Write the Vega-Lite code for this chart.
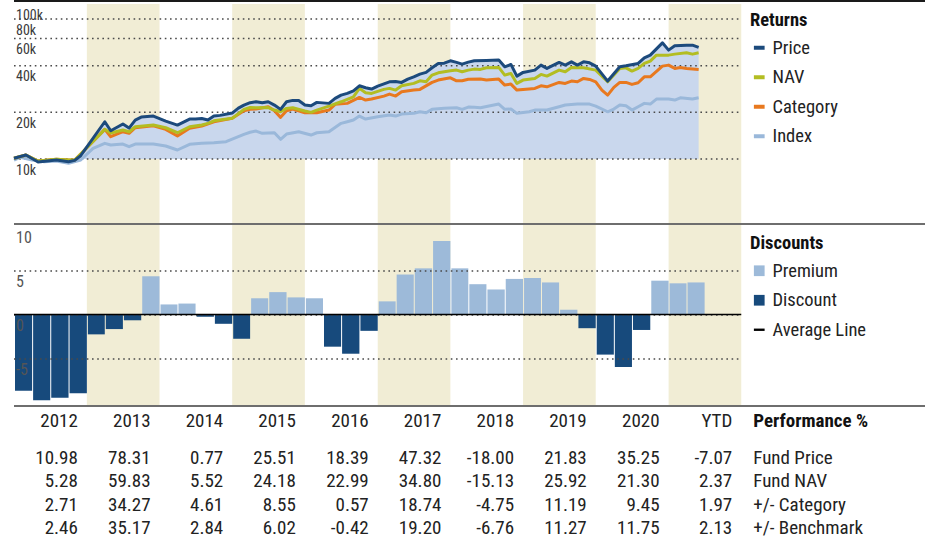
{
  "$schema": "https://vega.github.io/schema/vega-lite/v6.json",
  "padding": {"left": 12, "top": 0, "right": 0, "bottom": 0},
  "spacing": 0,
  "bounds": "flush",
  "resolve": {"scale": {"color": "independent"}, "legend": {"color": "independent"}},
  "datasets": {
    "lines": [
      {"series": "Index", "date": "2012-01-01", "value": 9853},
      {"series": "Index", "date": "2012-02-01", "value": 10255},
      {"series": "Index", "date": "2012-04-01", "value": 9853},
      {"series": "Index", "date": "2012-06-01", "value": 9607},
      {"series": "Index", "date": "2012-08-01", "value": 9708},
      {"series": "Index", "date": "2012-10-01", "value": 9380},
      {"series": "Index", "date": "2012-12-01", "value": 9853},
      {"series": "Index", "date": "2013-02-01", "value": 11721},
      {"series": "Index", "date": "2013-04-01", "value": 12623},
      {"series": "Index", "date": "2013-05-01", "value": 12309},
      {"series": "Index", "date": "2013-07-01", "value": 12493},
      {"series": "Index", "date": "2013-08-01", "value": 12002},
      {"series": "Index", "date": "2013-09-01", "value": 12493},
      {"series": "Index", "date": "2013-12-01", "value": 12493},
      {"series": "Index", "date": "2014-02-01", "value": 12127},
      {"series": "Index", "date": "2014-04-01", "value": 11430},
      {"series": "Index", "date": "2014-06-01", "value": 12437},
      {"series": "Index", "date": "2014-08-01", "value": 12623},
      {"series": "Index", "date": "2014-10-01", "value": 12735},
      {"series": "Index", "date": "2014-12-01", "value": 12926},
      {"series": "Index", "date": "2015-02-01", "value": 13922},
      {"series": "Index", "date": "2015-03-01", "value": 14426},
      {"series": "Index", "date": "2015-04-01", "value": 14880},
      {"series": "Index", "date": "2015-05-01", "value": 15150},
      {"series": "Index", "date": "2015-06-01", "value": 14642},
      {"series": "Index", "date": "2015-08-01", "value": 14773},
      {"series": "Index", "date": "2015-09-01", "value": 13400},
      {"series": "Index", "date": "2015-10-01", "value": 14490},
      {"series": "Index", "date": "2015-12-01", "value": 14994},
      {"series": "Index", "date": "2016-02-01", "value": 14277},
      {"series": "Index", "date": "2016-03-01", "value": 14773},
      {"series": "Index", "date": "2016-05-01", "value": 14994},
      {"series": "Index", "date": "2016-07-01", "value": 16985},
      {"series": "Index", "date": "2016-08-01", "value": 17392},
      {"series": "Index", "date": "2016-09-01", "value": 17836},
      {"series": "Index", "date": "2016-10-01", "value": 18927},
      {"series": "Index", "date": "2016-11-01", "value": 18103},
      {"series": "Index", "date": "2017-01-01", "value": 18731},
      {"series": "Index", "date": "2017-03-01", "value": 19209},
      {"series": "Index", "date": "2017-04-01", "value": 18927},
      {"series": "Index", "date": "2017-05-01", "value": 19497},
      {"series": "Index", "date": "2017-07-01", "value": 19701},
      {"series": "Index", "date": "2017-08-01", "value": 20174},
      {"series": "Index", "date": "2017-09-01", "value": 19876},
      {"series": "Index", "date": "2017-10-01", "value": 20905},
      {"series": "Index", "date": "2017-12-01", "value": 21217},
      {"series": "Index", "date": "2018-02-01", "value": 21407},
      {"series": "Index", "date": "2018-03-01", "value": 20905},
      {"series": "Index", "date": "2018-04-01", "value": 21630},
      {"series": "Index", "date": "2018-05-01", "value": 21534},
      {"series": "Index", "date": "2018-06-01", "value": 21407},
      {"series": "Index", "date": "2018-09-01", "value": 22614},
      {"series": "Index", "date": "2018-10-01", "value": 20905},
      {"series": "Index", "date": "2018-11-01", "value": 20997},
      {"series": "Index", "date": "2018-12-01", "value": 19701},
      {"series": "Index", "date": "2019-02-01", "value": 20174},
      {"series": "Index", "date": "2019-03-01", "value": 20689},
      {"series": "Index", "date": "2019-05-01", "value": 20689},
      {"series": "Index", "date": "2019-07-01", "value": 21727},
      {"series": "Index", "date": "2019-08-01", "value": 22282},
      {"series": "Index", "date": "2019-10-01", "value": 22614},
      {"series": "Index", "date": "2019-12-01", "value": 22614},
      {"series": "Index", "date": "2020-01-01", "value": 21954},
      {"series": "Index", "date": "2020-03-01", "value": 20174},
      {"series": "Index", "date": "2020-04-01", "value": 20997},
      {"series": "Index", "date": "2020-05-01", "value": 22282},
      {"series": "Index", "date": "2020-06-01", "value": 22051},
      {"series": "Index", "date": "2020-07-01", "value": 20689},
      {"series": "Index", "date": "2020-08-01", "value": 21727},
      {"series": "Index", "date": "2020-09-01", "value": 22851},
      {"series": "Index", "date": "2020-10-01", "value": 22614},
      {"series": "Index", "date": "2020-11-01", "value": 24357},
      {"series": "Index", "date": "2021-01-01", "value": 24357},
      {"series": "Index", "date": "2021-02-01", "value": 23999},
      {"series": "Index", "date": "2021-03-01", "value": 24830},
      {"series": "Index", "date": "2021-05-01", "value": 24357},
      {"series": "Index", "date": "2021-06-01", "value": 24830},
      {"series": "Category", "date": "2012-01-01", "value": 10104},
      {"series": "Category", "date": "2012-03-01", "value": 10611},
      {"series": "Category", "date": "2012-05-01", "value": 9708},
      {"series": "Category", "date": "2012-08-01", "value": 9950},
      {"series": "Category", "date": "2012-10-01", "value": 9853},
      {"series": "Category", "date": "2012-11-01", "value": 9853},
      {"series": "Category", "date": "2012-12-01", "value": 10770},
      {"series": "Category", "date": "2013-04-01", "value": 15538},
      {"series": "Category", "date": "2013-05-01", "value": 13922},
      {"series": "Category", "date": "2013-07-01", "value": 14994},
      {"series": "Category", "date": "2013-08-01", "value": 14642},
      {"series": "Category", "date": "2013-09-01", "value": 15910},
      {"series": "Category", "date": "2013-12-01", "value": 16390},
      {"series": "Category", "date": "2014-02-01", "value": 15538},
      {"series": "Category", "date": "2014-04-01", "value": 14067},
      {"series": "Category", "date": "2014-06-01", "value": 15770},
      {"series": "Category", "date": "2014-08-01", "value": 16317},
      {"series": "Category", "date": "2014-10-01", "value": 17392},
      {"series": "Category", "date": "2015-01-01", "value": 18290},
      {"series": "Category", "date": "2015-03-01", "value": 20475},
      {"series": "Category", "date": "2015-04-01", "value": 20950},
      {"series": "Category", "date": "2015-05-01", "value": 20997},
      {"series": "Category", "date": "2015-07-01", "value": 21727},
      {"series": "Category", "date": "2015-08-01", "value": 20475},
      {"series": "Category", "date": "2015-09-01", "value": 18565},
      {"series": "Category", "date": "2015-10-01", "value": 20475},
      {"series": "Category", "date": "2015-11-01", "value": 20997},
      {"series": "Category", "date": "2016-01-01", "value": 19876},
      {"series": "Category", "date": "2016-03-01", "value": 19876},
      {"series": "Category", "date": "2016-05-01", "value": 20689},
      {"series": "Category", "date": "2016-06-01", "value": 22515},
      {"series": "Category", "date": "2016-08-01", "value": 22851},
      {"series": "Category", "date": "2016-10-01", "value": 24977},
      {"series": "Category", "date": "2016-11-01", "value": 23999},
      {"series": "Category", "date": "2016-12-01", "value": 24357},
      {"series": "Category", "date": "2017-02-01", "value": 25464},
      {"series": "Category", "date": "2017-03-01", "value": 26232},
      {"series": "Category", "date": "2017-04-01", "value": 25464},
      {"series": "Category", "date": "2017-05-01", "value": 27142},
      {"series": "Category", "date": "2017-07-01", "value": 27835},
      {"series": "Category", "date": "2017-08-01", "value": 28126},
      {"series": "Category", "date": "2017-10-01", "value": 31206},
      {"series": "Category", "date": "2017-11-01", "value": 32290},
      {"series": "Category", "date": "2018-01-01", "value": 33410},
      {"series": "Category", "date": "2018-02-01", "value": 31955},
      {"series": "Category", "date": "2018-03-01", "value": 31955},
      {"series": "Category", "date": "2018-04-01", "value": 32680},
      {"series": "Category", "date": "2018-06-01", "value": 32771},
      {"series": "Category", "date": "2018-07-01", "value": 32290},
      {"series": "Category", "date": "2018-09-01", "value": 32771},
      {"series": "Category", "date": "2018-10-01", "value": 29980},
      {"series": "Category", "date": "2018-11-01", "value": 30430},
      {"series": "Category", "date": "2018-12-01", "value": 27835},
      {"series": "Category", "date": "2019-01-01", "value": 28126},
      {"series": "Category", "date": "2019-03-01", "value": 28548},
      {"series": "Category", "date": "2019-04-01", "value": 29670},
      {"series": "Category", "date": "2019-05-01", "value": 29233},
      {"series": "Category", "date": "2019-07-01", "value": 31206},
      {"series": "Category", "date": "2019-08-01", "value": 30745},
      {"series": "Category", "date": "2019-09-01", "value": 31815},
      {"series": "Category", "date": "2019-10-01", "value": 31486},
      {"series": "Category", "date": "2019-11-01", "value": 33114},
      {"series": "Category", "date": "2019-12-01", "value": 32627},
      {"series": "Category", "date": "2020-01-01", "value": 31486},
      {"series": "Category", "date": "2020-02-01", "value": 27835},
      {"series": "Category", "date": "2020-03-01", "value": 25846},
      {"series": "Category", "date": "2020-04-01", "value": 28974},
      {"series": "Category", "date": "2020-05-01", "value": 31206},
      {"series": "Category", "date": "2020-06-01", "value": 31206},
      {"series": "Category", "date": "2020-07-01", "value": 30293},
      {"series": "Category", "date": "2020-08-01", "value": 31020},
      {"series": "Category", "date": "2020-09-01", "value": 33908},
      {"series": "Category", "date": "2020-10-01", "value": 33908},
      {"series": "Category", "date": "2020-12-01", "value": 39744},
      {"series": "Category", "date": "2021-01-01", "value": 40341},
      {"series": "Category", "date": "2021-02-01", "value": 38411},
      {"series": "Category", "date": "2021-03-01", "value": 38984},
      {"series": "Category", "date": "2021-04-01", "value": 38411},
      {"series": "Category", "date": "2021-06-01", "value": 37846},
      {"series": "NAV", "date": "2012-01-01", "value": 10104},
      {"series": "NAV", "date": "2012-03-01", "value": 10611},
      {"series": "NAV", "date": "2012-05-01", "value": 9708},
      {"series": "NAV", "date": "2012-08-01", "value": 9950},
      {"series": "NAV", "date": "2012-10-01", "value": 9853},
      {"series": "NAV", "date": "2012-11-01", "value": 9853},
      {"series": "NAV", "date": "2012-12-01", "value": 10770},
      {"series": "NAV", "date": "2013-04-01", "value": 15538},
      {"series": "NAV", "date": "2013-05-01", "value": 14707},
      {"series": "NAV", "date": "2013-07-01", "value": 15377},
      {"series": "NAV", "date": "2013-08-01", "value": 14994},
      {"series": "NAV", "date": "2013-09-01", "value": 16148},
      {"series": "NAV", "date": "2013-12-01", "value": 16560},
      {"series": "NAV", "date": "2014-02-01", "value": 15910},
      {"series": "NAV", "date": "2014-04-01", "value": 14773},
      {"series": "NAV", "date": "2014-06-01", "value": 16148},
      {"series": "NAV", "date": "2014-08-01", "value": 16560},
      {"series": "NAV", "date": "2014-09-01", "value": 16985},
      {"series": "NAV", "date": "2014-10-01", "value": 17652},
      {"series": "NAV", "date": "2015-01-01", "value": 18290},
      {"series": "NAV", "date": "2015-03-01", "value": 20905},
      {"series": "NAV", "date": "2015-04-01", "value": 21480},
      {"series": "NAV", "date": "2015-05-01", "value": 21407},
      {"series": "NAV", "date": "2015-07-01", "value": 21480},
      {"series": "NAV", "date": "2015-08-01", "value": 20689},
      {"series": "NAV", "date": "2015-09-01", "value": 20174},
      {"series": "NAV", "date": "2015-10-01", "value": 21217},
      {"series": "NAV", "date": "2015-11-01", "value": 21407},
      {"series": "NAV", "date": "2016-01-01", "value": 20385},
      {"series": "NAV", "date": "2016-02-01", "value": 19995},
      {"series": "NAV", "date": "2016-03-01", "value": 20689},
      {"series": "NAV", "date": "2016-05-01", "value": 21954},
      {"series": "NAV", "date": "2016-07-01", "value": 23399},
      {"series": "NAV", "date": "2016-09-01", "value": 25200},
      {"series": "NAV", "date": "2016-10-01", "value": 28548},
      {"series": "NAV", "date": "2016-11-01", "value": 26743},
      {"series": "NAV", "date": "2016-12-01", "value": 26506},
      {"series": "NAV", "date": "2017-02-01", "value": 28126},
      {"series": "NAV", "date": "2017-03-01", "value": 28548},
      {"series": "NAV", "date": "2017-04-01", "value": 27835},
      {"series": "NAV", "date": "2017-05-01", "value": 29670},
      {"series": "NAV", "date": "2017-07-01", "value": 30745},
      {"series": "NAV", "date": "2017-08-01", "value": 31955},
      {"series": "NAV", "date": "2017-09-01", "value": 31486},
      {"series": "NAV", "date": "2017-10-01", "value": 34776},
      {"series": "NAV", "date": "2017-11-01", "value": 35983},
      {"series": "NAV", "date": "2018-01-01", "value": 37067},
      {"series": "NAV", "date": "2018-02-01", "value": 37454},
      {"series": "NAV", "date": "2018-03-01", "value": 36523},
      {"series": "NAV", "date": "2018-04-01", "value": 37454},
      {"series": "NAV", "date": "2018-05-01", "value": 38013},
      {"series": "NAV", "date": "2018-06-01", "value": 37846},
      {"series": "NAV", "date": "2018-07-01", "value": 38754},
      {"series": "NAV", "date": "2018-09-01", "value": 38984},
      {"series": "NAV", "date": "2018-10-01", "value": 34776},
      {"series": "NAV", "date": "2018-11-01", "value": 35664},
      {"series": "NAV", "date": "2018-12-01", "value": 30745},
      {"series": "NAV", "date": "2019-01-01", "value": 32290},
      {"series": "NAV", "date": "2019-03-01", "value": 33114},
      {"series": "NAV", "date": "2019-04-01", "value": 35140},
      {"series": "NAV", "date": "2019-05-01", "value": 34265},
      {"series": "NAV", "date": "2019-07-01", "value": 37454},
      {"series": "NAV", "date": "2019-08-01", "value": 36523},
      {"series": "NAV", "date": "2019-09-01", "value": 38984},
      {"series": "NAV", "date": "2019-11-01", "value": 38754},
      {"series": "NAV", "date": "2020-01-01", "value": 37454},
      {"series": "NAV", "date": "2020-03-01", "value": 31486},
      {"series": "NAV", "date": "2020-05-01", "value": 38411},
      {"series": "NAV", "date": "2020-06-01", "value": 38754},
      {"series": "NAV", "date": "2020-07-01", "value": 36901},
      {"series": "NAV", "date": "2020-08-01", "value": 38411},
      {"series": "NAV", "date": "2020-09-01", "value": 41371},
      {"series": "NAV", "date": "2020-10-01", "value": 42807},
      {"series": "NAV", "date": "2020-11-01", "value": 46790},
      {"series": "NAV", "date": "2020-12-01", "value": 46790},
      {"series": "NAV", "date": "2021-01-01", "value": 46790},
      {"series": "NAV", "date": "2021-02-01", "value": 47490},
      {"series": "NAV", "date": "2021-04-01", "value": 48420},
      {"series": "NAV", "date": "2021-05-01", "value": 47490},
      {"series": "NAV", "date": "2021-06-01", "value": 48420},
      {"series": "Price", "date": "2012-01-01", "value": 10104},
      {"series": "Price", "date": "2012-03-01", "value": 10611},
      {"series": "Price", "date": "2012-05-01", "value": 9565},
      {"series": "Price", "date": "2012-08-01", "value": 9853},
      {"series": "Price", "date": "2012-10-01", "value": 9600},
      {"series": "Price", "date": "2012-11-01", "value": 9800},
      {"series": "Price", "date": "2012-12-01", "value": 10500},
      {"series": "Price", "date": "2013-04-01", "value": 17392},
      {"series": "Price", "date": "2013-05-01", "value": 15218},
      {"series": "Price", "date": "2013-07-01", "value": 16810},
      {"series": "Price", "date": "2013-08-01", "value": 15840},
      {"series": "Price", "date": "2013-09-01", "value": 17836},
      {"series": "Price", "date": "2013-10-01", "value": 18648},
      {"series": "Price", "date": "2013-12-01", "value": 18927},
      {"series": "Price", "date": "2014-02-01", "value": 17574},
      {"series": "Price", "date": "2014-04-01", "value": 16560},
      {"series": "Price", "date": "2014-06-01", "value": 18103},
      {"series": "Price", "date": "2014-07-01", "value": 18103},
      {"series": "Price", "date": "2014-08-01", "value": 18250},
      {"series": "Price", "date": "2014-09-01", "value": 17836},
      {"series": "Price", "date": "2014-10-01", "value": 18927},
      {"series": "Price", "date": "2014-11-01", "value": 19120},
      {"series": "Price", "date": "2015-01-01", "value": 19788},
      {"series": "Price", "date": "2015-02-01", "value": 21312},
      {"series": "Price", "date": "2015-03-01", "value": 22282},
      {"series": "Price", "date": "2015-04-01", "value": 23100},
      {"series": "Price", "date": "2015-05-01", "value": 23399},
      {"series": "Price", "date": "2015-06-01", "value": 23055},
      {"series": "Price", "date": "2015-07-01", "value": 23399},
      {"series": "Price", "date": "2015-08-01", "value": 22282},
      {"series": "Price", "date": "2015-09-01", "value": 20905},
      {"series": "Price", "date": "2015-10-01", "value": 23399},
      {"series": "Price", "date": "2015-11-01", "value": 23891},
      {"series": "Price", "date": "2015-12-01", "value": 23830},
      {"series": "Price", "date": "2016-01-01", "value": 22282},
      {"series": "Price", "date": "2016-02-01", "value": 22051},
      {"series": "Price", "date": "2016-03-01", "value": 23192},
      {"series": "Price", "date": "2016-05-01", "value": 22851},
      {"series": "Price", "date": "2016-06-01", "value": 24610},
      {"series": "Price", "date": "2016-07-01", "value": 25846},
      {"series": "Price", "date": "2016-08-01", "value": 26506},
      {"series": "Price", "date": "2016-09-01", "value": 27550},
      {"series": "Price", "date": "2016-10-01", "value": 29670},
      {"series": "Price", "date": "2016-11-01", "value": 28803},
      {"series": "Price", "date": "2016-12-01", "value": 28253},
      {"series": "Price", "date": "2017-01-01", "value": 29539},
      {"series": "Price", "date": "2017-03-01", "value": 31486},
      {"series": "Price", "date": "2017-04-01", "value": 31580},
      {"series": "Price", "date": "2017-05-01", "value": 31206},
      {"series": "Price", "date": "2017-06-01", "value": 32771},
      {"series": "Price", "date": "2017-07-01", "value": 33908},
      {"series": "Price", "date": "2017-08-01", "value": 35295},
      {"series": "Price", "date": "2017-09-01", "value": 36199},
      {"series": "Price", "date": "2017-10-01", "value": 38754},
      {"series": "Price", "date": "2017-11-01", "value": 41371},
      {"series": "Price", "date": "2017-12-01", "value": 41500},
      {"series": "Price", "date": "2018-01-01", "value": 42999},
      {"series": "Price", "date": "2018-02-01", "value": 41988},
      {"series": "Price", "date": "2018-03-01", "value": 40943},
      {"series": "Price", "date": "2018-04-01", "value": 42150},
      {"series": "Price", "date": "2018-05-01", "value": 42999},
      {"series": "Price", "date": "2018-07-01", "value": 43254},
      {"series": "Price", "date": "2018-09-01", "value": 43445},
      {"series": "Price", "date": "2018-10-01", "value": 39333},
      {"series": "Price", "date": "2018-11-01", "value": 40759},
      {"series": "Price", "date": "2018-12-01", "value": 34265},
      {"series": "Price", "date": "2019-01-01", "value": 36199},
      {"series": "Price", "date": "2019-03-01", "value": 37454},
      {"series": "Price", "date": "2019-04-01", "value": 40341},
      {"series": "Price", "date": "2019-05-01", "value": 38411},
      {"series": "Price", "date": "2019-07-01", "value": 41988},
      {"series": "Price", "date": "2019-08-01", "value": 40341},
      {"series": "Price", "date": "2019-09-01", "value": 42364},
      {"series": "Price", "date": "2019-10-01", "value": 40341},
      {"series": "Price", "date": "2019-11-01", "value": 42364},
      {"series": "Price", "date": "2019-12-01", "value": 41741},
      {"series": "Price", "date": "2020-01-01", "value": 39744},
      {"series": "Price", "date": "2020-03-01", "value": 31815},
      {"series": "Price", "date": "2020-05-01", "value": 39333},
      {"series": "Price", "date": "2020-06-01", "value": 39923},
      {"series": "Price", "date": "2020-08-01", "value": 41371},
      {"series": "Price", "date": "2020-09-01", "value": 44950},
      {"series": "Price", "date": "2020-10-01", "value": 46790},
      {"series": "Price", "date": "2020-12-01", "value": 56160},
      {"series": "Price", "date": "2021-01-01", "value": 50400},
      {"series": "Price", "date": "2021-02-01", "value": 53720},
      {"series": "Price", "date": "2021-04-01", "value": 54270},
      {"series": "Price", "date": "2021-05-01", "value": 54270},
      {"series": "Price", "date": "2021-06-01", "value": 52460}
    ],
    "bars": [
      {"quarter": "2012-01-01", "premium": -8.6, "type": "Discount"},
      {"quarter": "2012-04-01", "premium": -9.7, "type": "Discount"},
      {"quarter": "2012-07-01", "premium": -9.4, "type": "Discount"},
      {"quarter": "2012-10-01", "premium": -8.9, "type": "Discount"},
      {"quarter": "2013-01-01", "premium": -2.2, "type": "Discount"},
      {"quarter": "2013-04-01", "premium": -1.6, "type": "Discount"},
      {"quarter": "2013-07-01", "premium": -0.6, "type": "Discount"},
      {"quarter": "2013-10-01", "premium": 4.4, "type": "Premium"},
      {"quarter": "2014-01-01", "premium": 1.2, "type": "Premium"},
      {"quarter": "2014-04-01", "premium": 1.3, "type": "Premium"},
      {"quarter": "2014-07-01", "premium": -0.2, "type": "Discount"},
      {"quarter": "2014-10-01", "premium": -1.0, "type": "Discount"},
      {"quarter": "2015-01-01", "premium": -2.7, "type": "Discount"},
      {"quarter": "2015-04-01", "premium": 1.9, "type": "Premium"},
      {"quarter": "2015-07-01", "premium": 2.6, "type": "Premium"},
      {"quarter": "2015-10-01", "premium": 2.0, "type": "Premium"},
      {"quarter": "2016-01-01", "premium": 1.9, "type": "Premium"},
      {"quarter": "2016-04-01", "premium": -3.6, "type": "Discount"},
      {"quarter": "2016-07-01", "premium": -4.4, "type": "Discount"},
      {"quarter": "2016-10-01", "premium": -1.8, "type": "Discount"},
      {"quarter": "2017-01-01", "premium": 1.55, "type": "Premium"},
      {"quarter": "2017-04-01", "premium": 4.6, "type": "Premium"},
      {"quarter": "2017-07-01", "premium": 5.3, "type": "Premium"},
      {"quarter": "2017-10-01", "premium": 8.4, "type": "Premium"},
      {"quarter": "2018-01-01", "premium": 5.3, "type": "Premium"},
      {"quarter": "2018-04-01", "premium": 3.5, "type": "Premium"},
      {"quarter": "2018-07-01", "premium": 2.9, "type": "Premium"},
      {"quarter": "2018-10-01", "premium": 4.1, "type": "Premium"},
      {"quarter": "2019-01-01", "premium": 4.2, "type": "Premium"},
      {"quarter": "2019-04-01", "premium": 3.7, "type": "Premium"},
      {"quarter": "2019-07-01", "premium": 0.6, "type": "Premium"},
      {"quarter": "2019-10-01", "premium": -1.5, "type": "Discount"},
      {"quarter": "2020-01-01", "premium": -4.5, "type": "Discount"},
      {"quarter": "2020-04-01", "premium": -5.9, "type": "Discount"},
      {"quarter": "2020-07-01", "premium": -1.7, "type": "Discount"},
      {"quarter": "2020-10-01", "premium": 3.9, "type": "Premium"},
      {"quarter": "2021-01-01", "premium": 3.6, "type": "Premium"},
      {"quarter": "2021-04-01", "premium": 3.7, "type": "Premium"}
    ],
    "bands": [
      {"start": "2013-01-01", "end": "2014-01-01"},
      {"start": "2015-01-01", "end": "2016-01-01"},
      {"start": "2017-01-01", "end": "2018-01-01"},
      {"start": "2019-01-01", "end": "2020-01-01"},
      {"start": "2021-01-01", "end": "2022-01-01"}
    ],
    "years": [
      {"year": "2012", "label": "2012"},
      {"year": "2013", "label": "2013"},
      {"year": "2014", "label": "2014"},
      {"year": "2015", "label": "2015"},
      {"year": "2016", "label": "2016"},
      {"year": "2017", "label": "2017"},
      {"year": "2018", "label": "2018"},
      {"year": "2019", "label": "2019"},
      {"year": "2020", "label": "2020"},
      {"year": "2021", "label": "YTD"}
    ],
    "perf": [
      {"metric": "Fund Price", "year": "2012", "value": 10.98},
      {"metric": "Fund Price", "year": "2013", "value": 78.31},
      {"metric": "Fund Price", "year": "2014", "value": 0.77},
      {"metric": "Fund Price", "year": "2015", "value": 25.51},
      {"metric": "Fund Price", "year": "2016", "value": 18.39},
      {"metric": "Fund Price", "year": "2017", "value": 47.32},
      {"metric": "Fund Price", "year": "2018", "value": -18.00},
      {"metric": "Fund Price", "year": "2019", "value": 21.83},
      {"metric": "Fund Price", "year": "2020", "value": 35.25},
      {"metric": "Fund Price", "year": "2021", "value": -7.07},
      {"metric": "Fund NAV", "year": "2012", "value": 5.28},
      {"metric": "Fund NAV", "year": "2013", "value": 59.83},
      {"metric": "Fund NAV", "year": "2014", "value": 5.52},
      {"metric": "Fund NAV", "year": "2015", "value": 24.18},
      {"metric": "Fund NAV", "year": "2016", "value": 22.99},
      {"metric": "Fund NAV", "year": "2017", "value": 34.80},
      {"metric": "Fund NAV", "year": "2018", "value": -15.13},
      {"metric": "Fund NAV", "year": "2019", "value": 25.92},
      {"metric": "Fund NAV", "year": "2020", "value": 21.30},
      {"metric": "Fund NAV", "year": "2021", "value": 2.37},
      {"metric": "+/- Category", "year": "2012", "value": 2.71},
      {"metric": "+/- Category", "year": "2013", "value": 34.27},
      {"metric": "+/- Category", "year": "2014", "value": 4.61},
      {"metric": "+/- Category", "year": "2015", "value": 8.55},
      {"metric": "+/- Category", "year": "2016", "value": 0.57},
      {"metric": "+/- Category", "year": "2017", "value": 18.74},
      {"metric": "+/- Category", "year": "2018", "value": -4.75},
      {"metric": "+/- Category", "year": "2019", "value": 11.19},
      {"metric": "+/- Category", "year": "2020", "value": 9.45},
      {"metric": "+/- Category", "year": "2021", "value": 1.97},
      {"metric": "+/- Benchmark", "year": "2012", "value": 2.46},
      {"metric": "+/- Benchmark", "year": "2013", "value": 35.17},
      {"metric": "+/- Benchmark", "year": "2014", "value": 2.84},
      {"metric": "+/- Benchmark", "year": "2015", "value": 6.02},
      {"metric": "+/- Benchmark", "year": "2016", "value": -0.42},
      {"metric": "+/- Benchmark", "year": "2017", "value": 19.20},
      {"metric": "+/- Benchmark", "year": "2018", "value": -6.76},
      {"metric": "+/- Benchmark", "year": "2019", "value": 11.27},
      {"metric": "+/- Benchmark", "year": "2020", "value": 11.75},
      {"metric": "+/- Benchmark", "year": "2021", "value": 2.13}
    ],
    "metrics": [
      {"metric": "Fund Price"},
      {"metric": "Fund NAV"},
      {"metric": "+/- Category"},
      {"metric": "+/- Benchmark"}
    ]
  },
  "vconcat": [
    {
      "width": 913,
      "height": 220,
      "layer": [
        {
          "data": {"name": "bands"},
          "mark": {"type": "rect", "color": "#f1edd5"},
          "encoding": {
            "x": {"field": "start", "type": "temporal",
              "scale": {"type": "utc", "domain": [{"year": 2012, "month": 1, "date": 1, "utc": true}, {"year": 2024, "month": 7, "date": 22, "utc": true}]},
              "axis": null},
            "x2": {"field": "end"}
          }
        },
        {
          "data": {"name": "lines"},
          "transform": [{"filter": "datum.series === 'Price'"}],
          "mark": {"type": "area", "color": "#c9d7ed"},
          "encoding": {
            "x": {"field": "date", "type": "temporal", "axis": null},
            "y": {"field": "value", "type": "quantitative",
              "scale": {"type": "log", "domain": [3808, 100000], "nice": false},
              "axis": null},
            "y2": {"datum": 10000}
          }
        },
        {
          "data": {"values": [{"value": 10000}, {"value": 20000}, {"value": 40000}, {"value": 60000}, {"value": 80000}]},
          "mark": {"type": "rule", "color": "#4a4a4a", "strokeWidth": 1.5, "strokeDash": [1.6, 3.6]},
          "encoding": {
            "y": {"field": "value", "type": "quantitative", "axis": null},
            "x": {"datum": {"year": 2012, "month": 1, "date": 1, "utc": true}, "axis": null},
            "x2": {"datum": {"year": 2022, "month": 1, "date": 1, "utc": true}}
          }
        },
        {
          "data": {"values": [{"value": 100000}]},
          "mark": {"type": "rule", "color": "#1a1a1a", "strokeWidth": 2, "yOffset": -3},
          "encoding": {
            "y": {"field": "value", "type": "quantitative", "axis": null},
            "x": {"datum": {"year": 2012, "month": 1, "date": 1, "utc": true}, "axis": null},
            "x2": {"datum": {"year": 2024, "month": 7, "date": 22, "utc": true}}
          }
        },
        {
          "data": {"values": [{"value": 10000, "label": "10k"}, {"value": 20000, "label": "20k"}, {"value": 40000, "label": "40k"}, {"value": 60000, "label": "60k"}, {"value": 80000, "label": "80k"}, {"value": 100000, "label": "100k"}]},
          "mark": {"type": "text", "align": "left", "baseline": "top", "dx": 2, "dy": 4.5, "fontSize": 14, "color": "#3a3a3a"},
          "encoding": {
            "y": {"field": "value", "type": "quantitative", "axis": null},
            "x": {"datum": {"year": 2012, "month": 1, "date": 1, "utc": true}, "axis": null},
            "text": {"field": "label"}
          }
        },
        {
          "data": {"name": "lines"},
          "mark": {"type": "line", "strokeWidth": 3, "strokeJoin": "round"},
          "encoding": {
            "x": {"field": "date", "type": "temporal", "axis": null},
            "y": {"field": "value", "type": "quantitative", "axis": null},
            "color": {"field": "series", "type": "nominal",
              "scale": {"domain": ["Price", "NAV", "Category", "Index"], "range": ["#1c4a7c", "#b3bd22", "#e8791f", "#9ab8da"]},
              "legend": {"orient": "none", "legendX": 736, "legendY": 7, "title": "Returns", "titleFontSize": 18.5, "titleFontWeight": "bold", "titleColor": "#111111", "titlePadding": 9, "labelFontSize": 18.5, "labelColor": "#222222", "labelOffset": 4, "rowPadding": 10.5, "symbolType": "stroke", "symbolStrokeWidth": 4, "symbolSize": 115, "padding": 0}}
          }
        }
      ]
    },
    {
      "width": 913,
      "height": 182,
      "layer": [
        {
          "data": {"name": "bands"},
          "mark": {"type": "rect", "color": "#f1edd5"},
          "encoding": {
            "x": {"field": "start", "type": "temporal",
              "scale": {"type": "utc", "domain": [{"year": 2012, "month": 1, "date": 1, "utc": true}, {"year": 2024, "month": 7, "date": 22, "utc": true}]},
              "axis": null},
            "x2": {"field": "end"}
          }
        },
        {
          "data": {"name": "bars"},
          "mark": {"type": "bar", "timeUnitBandSize": 0.84},
          "encoding": {
            "x": {"field": "quarter", "type": "temporal", "timeUnit": "utcyearquarter", "axis": null},
            "y": {"field": "premium", "type": "quantitative",
              "scale": {"domain": [-10.34, 10.34], "nice": false, "zero": false},
              "axis": null},
            "color": {"field": "type", "type": "nominal",
              "scale": {"domain": ["Premium", "Discount", "Average Line"], "range": ["#9dbad9", "#174a7c", "#000000"]},
              "legend": {"orient": "none", "legendX": 736, "legendY": 10, "title": "Discounts", "titleFontSize": 18.5, "titleFontWeight": "bold", "titleColor": "#111111", "titlePadding": 9, "labelFontSize": 18.5, "labelColor": "#222222", "labelOffset": 4, "rowPadding": 10.5, "symbolType": "square", "symbolSize": 115, "symbolStrokeWidth": 0, "padding": 0,
                "encode": {"symbols": {"update": {"shape": {"signal": "datum.value === 'Average Line' ? 'M-1,-0.22H1V0.22H-1Z' : 'square'"}}}}}}
          }
        },
        {
          "data": {"values": [{"premium": -5}, {"premium": 0}, {"premium": 5}]},
          "mark": {"type": "rule", "color": "#4a4a4a", "strokeWidth": 1.5, "strokeDash": [1.6, 3.6]},
          "encoding": {
            "y": {"field": "premium", "type": "quantitative", "axis": null},
            "x": {"datum": {"year": 2012, "month": 1, "date": 1, "utc": true}, "axis": null},
            "x2": {"datum": {"year": 2022, "month": 1, "date": 1, "utc": true}}
          }
        },
        {
          "data": {"values": [{"premium": 10.34}, {"premium": -10.34}]},
          "mark": {"type": "rule", "color": "#6e6e6e", "strokeWidth": 2},
          "encoding": {
            "y": {"field": "premium", "type": "quantitative", "axis": null},
            "x": {"datum": {"year": 2012, "month": 1, "date": 1, "utc": true}, "axis": null},
            "x2": {"datum": {"year": 2024, "month": 7, "date": 22, "utc": true}}
          }
        },
        {
          "data": {"values": [{"premium": -5}, {"premium": 0}, {"premium": 5}, {"premium": 10}]},
          "mark": {"type": "text", "align": "left", "baseline": "top", "dx": 2, "dy": 3, "fontSize": 16, "color": "#555555"},
          "encoding": {
            "y": {"field": "premium", "type": "quantitative", "axis": null},
            "x": {"datum": {"year": 2012, "month": 1, "date": 1, "utc": true}, "axis": null},
            "text": {"field": "premium", "type": "quantitative", "format": "d"}
          }
        },
        {
          "data": {"name": "bars"},
          "transform": [{"aggregate": [{"op": "mean", "field": "premium", "as": "avg"}]}],
          "mark": {"type": "rule", "strokeWidth": 1.5},
          "encoding": {
            "y": {"field": "avg", "type": "quantitative", "axis": null},
            "x": {"datum": {"year": 2012, "month": 1, "date": 1, "utc": true}, "axis": null},
            "x2": {"datum": {"year": 2022, "month": 1, "date": 1, "utc": true}},
            "color": {"datum": "Average Line", "legend": null}
          }
        }
      ]
    },
    {
      "width": 913,
      "height": 30,
      "layer": [
        {
          "data": {"name": "years"},
          "mark": {"type": "text", "align": "right", "dx": -9, "dy": 0, "fontSize": 19, "color": "#222222"},
          "encoding": {
            "x": {"field": "year", "type": "temporal", "timeUnit": "utcyear", "bandPosition": 1,
              "scale": {"type": "utc", "domain": [{"year": 2012, "month": 1, "date": 1, "utc": true}, {"year": 2024, "month": 7, "date": 22, "utc": true}]},
              "axis": null},
            "text": {"field": "label"}
          }
        },
        {
          "data": {"values": [{"t": "Performance %"}]},
          "mark": {"type": "text", "align": "left", "dx": 12, "dy": 0, "fontSize": 19, "fontWeight": "bold", "color": "#111111"},
          "encoding": {
            "x": {"datum": {"year": 2022, "month": 1, "date": 1, "utc": true}, "axis": null},
            "text": {"field": "t"}
          }
        }
      ]
    },
    {
      "width": 913,
      "height": 111,
      "layer": [
        {
          "data": {"name": "perf"},
          "mark": {"type": "text", "align": "right", "dx": -9, "dy": 1.5, "fontSize": 19, "color": "#222222"},
          "encoding": {
            "x": {"field": "year", "type": "temporal", "timeUnit": "utcyear", "bandPosition": 1,
              "scale": {"type": "utc", "domain": [{"year": 2012, "month": 1, "date": 1, "utc": true}, {"year": 2024, "month": 7, "date": 22, "utc": true}]},
              "axis": null},
            "y": {"field": "metric", "type": "ordinal",
              "scale": {"domain": ["Fund Price", "Fund NAV", "+/- Category", "+/- Benchmark"], "padding": 0.86},
              "axis": null},
            "text": {"field": "value", "type": "quantitative", "format": ".2f"}
          }
        },
        {
          "data": {"name": "metrics"},
          "mark": {"type": "text", "align": "left", "dx": 12, "dy": 1.5, "fontSize": 19, "color": "#222222"},
          "encoding": {
            "x": {"datum": {"year": 2022, "month": 1, "date": 1, "utc": true}, "axis": null},
            "y": {"field": "metric", "type": "ordinal", "axis": null},
            "text": {"field": "metric"}
          }
        }
      ]
    }
  ],
  "config": {
    "font": "Roboto Condensed, Liberation Sans Narrow, Arial Narrow, Roboto, sans-serif",
    "view": {"stroke": null},
    "locale": {"number": {"decimal": ".", "thousands": ",", "grouping": [3], "currency": ["$", ""], "minus": "-"}}
  }
}
